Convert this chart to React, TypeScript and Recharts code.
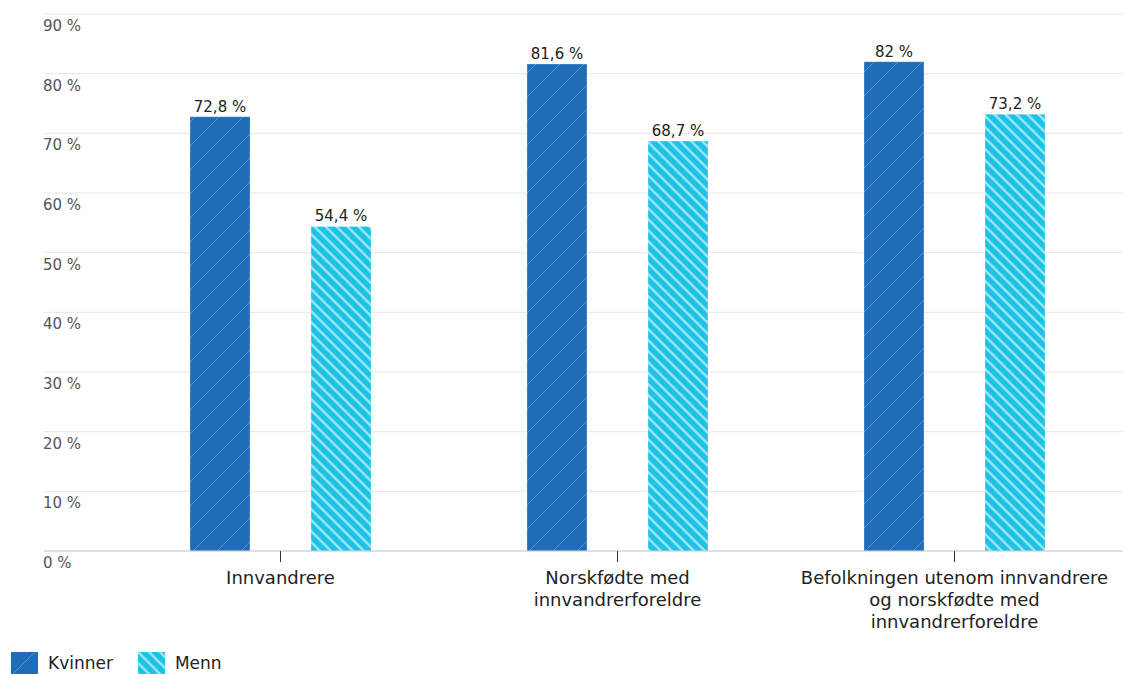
import { Bar, BarChart, CartesianGrid, LabelList, Legend, XAxis, YAxis } from "recharts"

const categories = [
  "Innvandrere",
  "Norskfødte med\ninnvandrerforeldre",
  "Befolkningen utenom innvandrere\nog norskfødte med\ninnvandrerforeldre",
]
const kvinner = [72.8, 81.6, 82]
const menn = [54.4, 68.7, 73.2]
const yTicks = [0, 10, 20, 30, 40, 50, 60, 70, 80, 90]

const data = categories.map((name, i) => ({ name, kvinner: kvinner[i], menn: menn[i] }))

const FONT = "Verdana, 'DejaVu Sans', sans-serif"
const KV = "#1f6db7"
const ME = "#1dc3e6"

const fmt = (v: any) => `${String(v).replace(".", ",")} %`

function YTick(props: any) {
  const { x, y, payload } = props
  return (
    <text x={x - 1} y={y + 17} textAnchor="start" fill="#555" fontSize={15} fontFamily={FONT}>
      {payload.value} %
    </text>
  )
}

function XTick(props: any) {
  const { x, y, payload } = props
  const lines = String(payload.value).split("\n")
  return (
    <text x={x} y={y} textAnchor="middle" fill="#222" fontSize={18} fontFamily={FONT}>
      {lines.map((l, i) => (
        <tspan key={i} x={x} dy={22}>
          {l}
        </tspan>
      ))}
    </text>
  )
}

function LegendBox() {
  const items = [
    { label: "Kvinner", fill: "url(#kvPat)" },
    { label: "Menn", fill: "url(#mePat)" },
  ]
  return (
    <div style={{ display: "flex", alignItems: "center", fontFamily: FONT, fontSize: 17, color: "#222" }}>
      {items.map((it) => (
        <div key={it.label} style={{ display: "flex", alignItems: "center", marginRight: 25 }}>
          <svg width={27} height={22} style={{ marginRight: 10 }}>
            <rect width={27} height={22} fill={it.fill} />
          </svg>
          <span>{it.label}</span>
        </div>
      ))}
    </div>
  )
}

export default function App() {
  return (
    <div style={{ position: "absolute", left: 0, top: 0, width: 1123, height: 674, background: "#fff" }}>
      <svg width={0} height={0} style={{ position: "absolute" }}>
        <defs>
          <pattern id="kvPat" patternUnits="userSpaceOnUse" width={24} height={24}>
            <rect width={24} height={24} fill={KV} />
            <path d="M-6,6 L6,-6 M0,24 L24,0 M18,30 L30,18" stroke="rgba(255,255,255,0.25)" strokeWidth={1} />
          </pattern>
          <pattern id="mePat" patternUnits="userSpaceOnUse" width={11} height={11}>
            <rect width={11} height={11} fill={ME} />
            <path d="M-1,10 L1,12 M0,0 L11,11 M10,-1 L12,1" stroke="rgba(255,255,255,0.55)" strokeWidth={2.5} />
          </pattern>
        </defs>
      </svg>
      <BarChart
        width={1123}
        height={674}
        data={data}
        margin={{ top: 14, right: 0, left: 0, bottom: 0 }}
        barSize={60}
        barGap={61}
      >
        <CartesianGrid vertical={false} stroke="#e6e6e6" />
        <XAxis
          dataKey="name"
          interval={0}
          height={101}
          padding={{ left: 68, right: 0 }}
          axisLine={{ stroke: "#ccc" }}
          tickLine={{ stroke: "#333" }}
          tickSize={11}
          tickMargin={0}
          tick={<XTick />}
        />
        <YAxis
          width={44}
          domain={[0, 90]}
          ticks={yTicks}
          axisLine={false}
          tickLine={false}
          tickSize={0}
          tickMargin={0}
          tick={<YTick />}
        />
        <Legend
          verticalAlign="bottom"
          align="left"
          height={22}
          wrapperStyle={{ left: 11 }}
          content={<LegendBox />}
        />
        <Bar dataKey="kvinner" name="Kvinner" fill="url(#kvPat)" stroke="rgba(255,255,255,0.25)" isAnimationActive={false}>
          <LabelList dataKey="kvinner" position="top" offset={5} formatter={fmt} fill="#222" fontSize={15} fontFamily={FONT} />
        </Bar>
        <Bar dataKey="menn" name="Menn" fill="url(#mePat)" stroke="rgba(255,255,255,0.25)" isAnimationActive={false}>
          <LabelList dataKey="menn" position="top" offset={5} formatter={fmt} fill="#222" fontSize={15} fontFamily={FONT} />
        </Bar>
      </BarChart>
    </div>
  )
}
